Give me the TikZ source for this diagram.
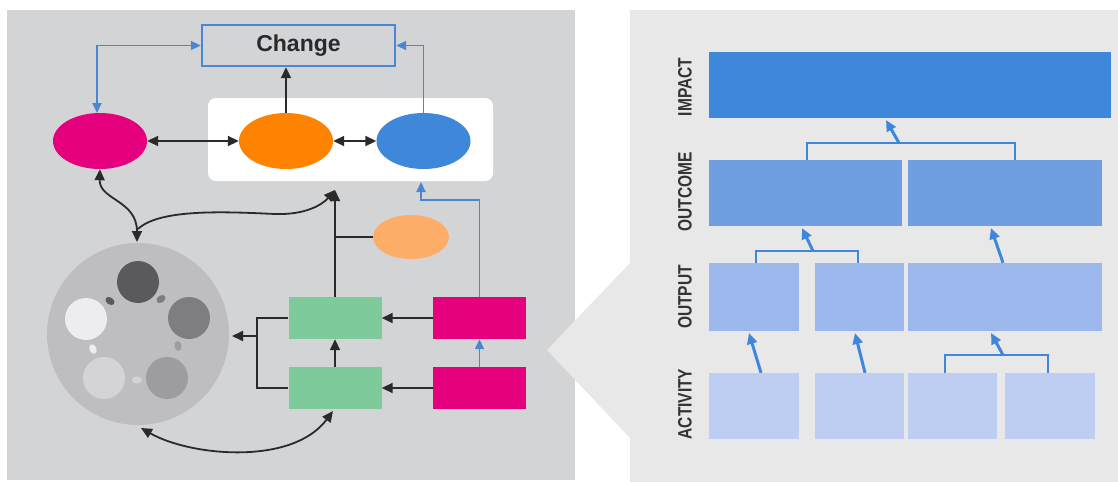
\documentclass[tikz,border=0pt]{standalone}
\usepackage{graphicx}
\usepackage{fontspec}
\setmainfont{Liberation Sans}
\usetikzlibrary{shapes.geometric,arrows.meta,calc}
\definecolor{panelL}{HTML}{D3D4D6}
\definecolor{panelR}{HTML}{E8E8E9}
\definecolor{mag}{HTML}{E5007D}
\definecolor{orng}{HTML}{FF8200}
\definecolor{blu}{HTML}{3F87DA}
\definecolor{lorng}{HTML}{FDAD68}
\definecolor{grn}{HTML}{7DCA9A}
\definecolor{lineblue}{HTML}{4A86D4}
\definecolor{ink}{HTML}{2A2A2A}
\definecolor{impc}{HTML}{3F87DA}
\definecolor{outc}{HTML}{6F9FE0}
\definecolor{outp}{HTML}{9BB7EC}
\definecolor{actc}{HTML}{BECEF2}
\definecolor{cbig}{HTML}{BEBEC0}
\definecolor{c1}{HTML}{5A5A5C}
\definecolor{c2}{HTML}{7E7E80}
\definecolor{c3}{HTML}{9D9D9F}
\definecolor{c4}{HTML}{D4D4D6}
\definecolor{c5}{HTML}{EDEDEF}
\definecolor{lbltext}{HTML}{333333}
\begin{document}
\begin{tikzpicture}[x=1pt,y=-1pt,
  ell/.style={ellipse, minimum width=94pt, minimum height=56pt, inner sep=0pt},
  rbox/.style={rectangle, minimum width=93pt, minimum height=42pt, inner sep=0pt},
  pbox/.style={rectangle, inner sep=0pt},
  dot/.style={circle, minimum size=42pt, inner sep=0pt},
  blob/.style={ellipse, minimum width=10pt, minimum height=7pt, inner sep=0pt},
  bk/.style={draw=ink, line width=1.8pt, >={Triangle[length=11pt,width=10pt]}},
  bl/.style={draw=lineblue, line width=1.8pt, >={Triangle[length=10pt,width=9pt]}},
  brk/.style={draw=blu, line width=2.4pt},
  barr/.style={draw=blu, line width=3pt, -{Triangle[length=11pt,width=10pt]}},
  lbl/.style={rotate=90, inner sep=0pt, text=lbltext, font=\fontsize{15.5}{16}\selectfont\bfseries}
]
\useasboundingbox (0,0) rectangle (1118,482);
\fill[white] (0,0) rectangle (1118,482);
% panels
\fill[panelL] (7,10) rectangle (575,480);
\fill[panelR] (630,10) rectangle (1118,482);
\fill[panelR] (630,263) -- (547,350) -- (630,438) -- cycle;

% ---------- left panel ----------
\fill[white, rounded corners=8pt] (208,98) rectangle (493,181);
\node[draw=lineblue, line width=2.4pt, minimum width=193pt, minimum height=41pt, inner sep=0pt,
      text=ink, font=\fontsize{23}{26}\selectfont\bfseries] (change) at (298.5,45.5) {Change};
\node[ell, fill=mag] (mag) at (100,141) {};
\node[ell, fill=orng] (org) at (286,141) {};
\node[ell, fill=blu] (blu) at (423.5,141) {};
\node[ellipse, minimum width=76pt, minimum height=44pt, inner sep=0pt, fill=lorng] (lorg) at (411,237) {};

\node[rbox, fill=grn] (g1) at (335,318) {};
\node[rbox, fill=grn] (g2) at (335,388) {};
\node[rbox, fill=mag] (m1) at (479.5,318) {};
\node[rbox, fill=mag] (m2) at (479.5,388) {};

% big circle
\node[circle, minimum size=182pt, inner sep=0pt, fill=cbig] (big) at (138,334) {};
\node[dot, fill=c1] (d1) at (138,282) {};
\node[dot, fill=c2] (d2) at (189,318) {};
\node[dot, fill=c3] (d3) at (167,378) {};
\node[dot, fill=c4] (d4) at (104,378) {};
\node[dot, fill=c5] (d5) at (86,319) {};
\node[blob, fill=c1, rotate=-35] (e1) at (110,301) {};
\node[blob, fill=c2, rotate=35] (e2) at (161,299) {};
\node[blob, fill=c3, rotate=100] (e3) at (178,346) {};
\node[blob, fill=c4, rotate=0] (e4) at (137,380) {};
\node[blob, fill=c5, rotate=-65] (e5) at (93,349) {};

% coordinates
\coordinate (cm) at (97,113);
\coordinate (bt) at (421,182);
\coordinate (jt) at (335,190);
\coordinate (jc) at (138,229);
\coordinate (ct) at (137,242);
\coordinate (br) at (257,336);
\coordinate (cb) at (141,428);
\coordinate (gb) at (333,411);

% blue connectors
\draw[bl,<->] (change.west) -| (cm);
\draw[bl,->] (blu.north) |- (change.east);
\draw[bl,->] (m1.north) -- (m1.north |- 0,200) -| (bt);
\draw[bl,->] (m2.north) -- (m1.south);

% black connectors
\draw[bk,->] (org.north) -- (org.north |- change.south);
\draw[bk,<->] (mag.east) -- (org.west);
\draw[bk,<->] (org.east) -- (blu.west);
\draw[bk,->] (m1.west) -- (g1.east);
\draw[bk,->] (m2.west) -- (g2.east);
\draw[bk,->] (g2.north) -- (g1.south);
\draw[bk] (g1.west) -| (br) |- (g2.west);
\draw[bk,->] (br) -- (232,336);
\draw[bk,->] (g1.north) -- (jt);
\draw[bk] (g1.north |- lorg.west) -- (lorg.west);
\draw[bk,<->] (mag.south) .. controls (99,200) and (137,200) .. (ct);
\draw[bk,->] (jc) .. controls (160,208) and (230,212) .. (275,214) .. controls (305,215) and (322,205) .. (jt);
\draw[bk,<->] (cb) .. controls (190,456) and (292,466) .. (gb);

% ---------- right panel ----------
\node[pbox, fill=impc, minimum width=402pt, minimum height=66pt] (imp) at (910,85) {};
\node[pbox, fill=outc, minimum width=193pt, minimum height=66pt] (oc1) at (805.5,193) {};
\node[pbox, fill=outc, minimum width=194pt, minimum height=66pt] (oc2) at (1005,193) {};
\node[pbox, fill=outp, minimum width=90pt, minimum height=68pt] (op1) at (754,297) {};
\node[pbox, fill=outp, minimum width=89pt, minimum height=68pt] (op2) at (859.5,297) {};
\node[pbox, fill=outp, minimum width=194pt, minimum height=68pt] (op3) at (1005,297) {};
\node[pbox, fill=actc, minimum width=90pt, minimum height=66pt] (a1) at (754,406) {};
\node[pbox, fill=actc, minimum width=89pt, minimum height=66pt] (a2) at (859.5,406) {};
\node[pbox, fill=actc, minimum width=89pt, minimum height=66pt] (a3) at (952.5,406) {};
\node[pbox, fill=actc, minimum width=90pt, minimum height=66pt] (a4) at (1050,406) {};

\node[lbl] (limp) at (685,87) {\scalebox{1}[1.25]{IMPACT}};
\node[lbl] (lout) at (685,192) {\scalebox{1}[1.25]{OUTCOME}};
\node[lbl] (lop) at (685,297) {\scalebox{1}[1.25]{OUTPUT}};
\node[lbl] (lact) at (685,404) {\scalebox{1}[1.25]{ACTIVITY}};

% brackets and arrows
\coordinate (k1) at (899,143);
\coordinate (k2) at (813,251);
\coordinate (k3) at (1003,355);
\draw[brk] (807,0 |- oc1.north) -- (807,143) -- (1015,143) -- (1015,0 |- oc2.north);
\draw[barr] (k1) -- (886,120);
\draw[brk] (756,0 |- op1.north) -- (756,251) -- (858,251) -- (858,0 |- op2.north);
\draw[barr] (k2) -- (802,228);
\draw[barr] (1003,0 |- op3.north) -- (991,228);
\draw[barr] (761,0 |- a1.north) -- (749,333);
\draw[barr] (865,0 |- a2.north) -- (855,333);
\draw[brk] (945,0 |- a3.north) -- (945,355) -- (1048,355) -- (1048,0 |- a4.north);
\draw[barr] (k3) -- (991,333);
\end{tikzpicture}
\end{document}
